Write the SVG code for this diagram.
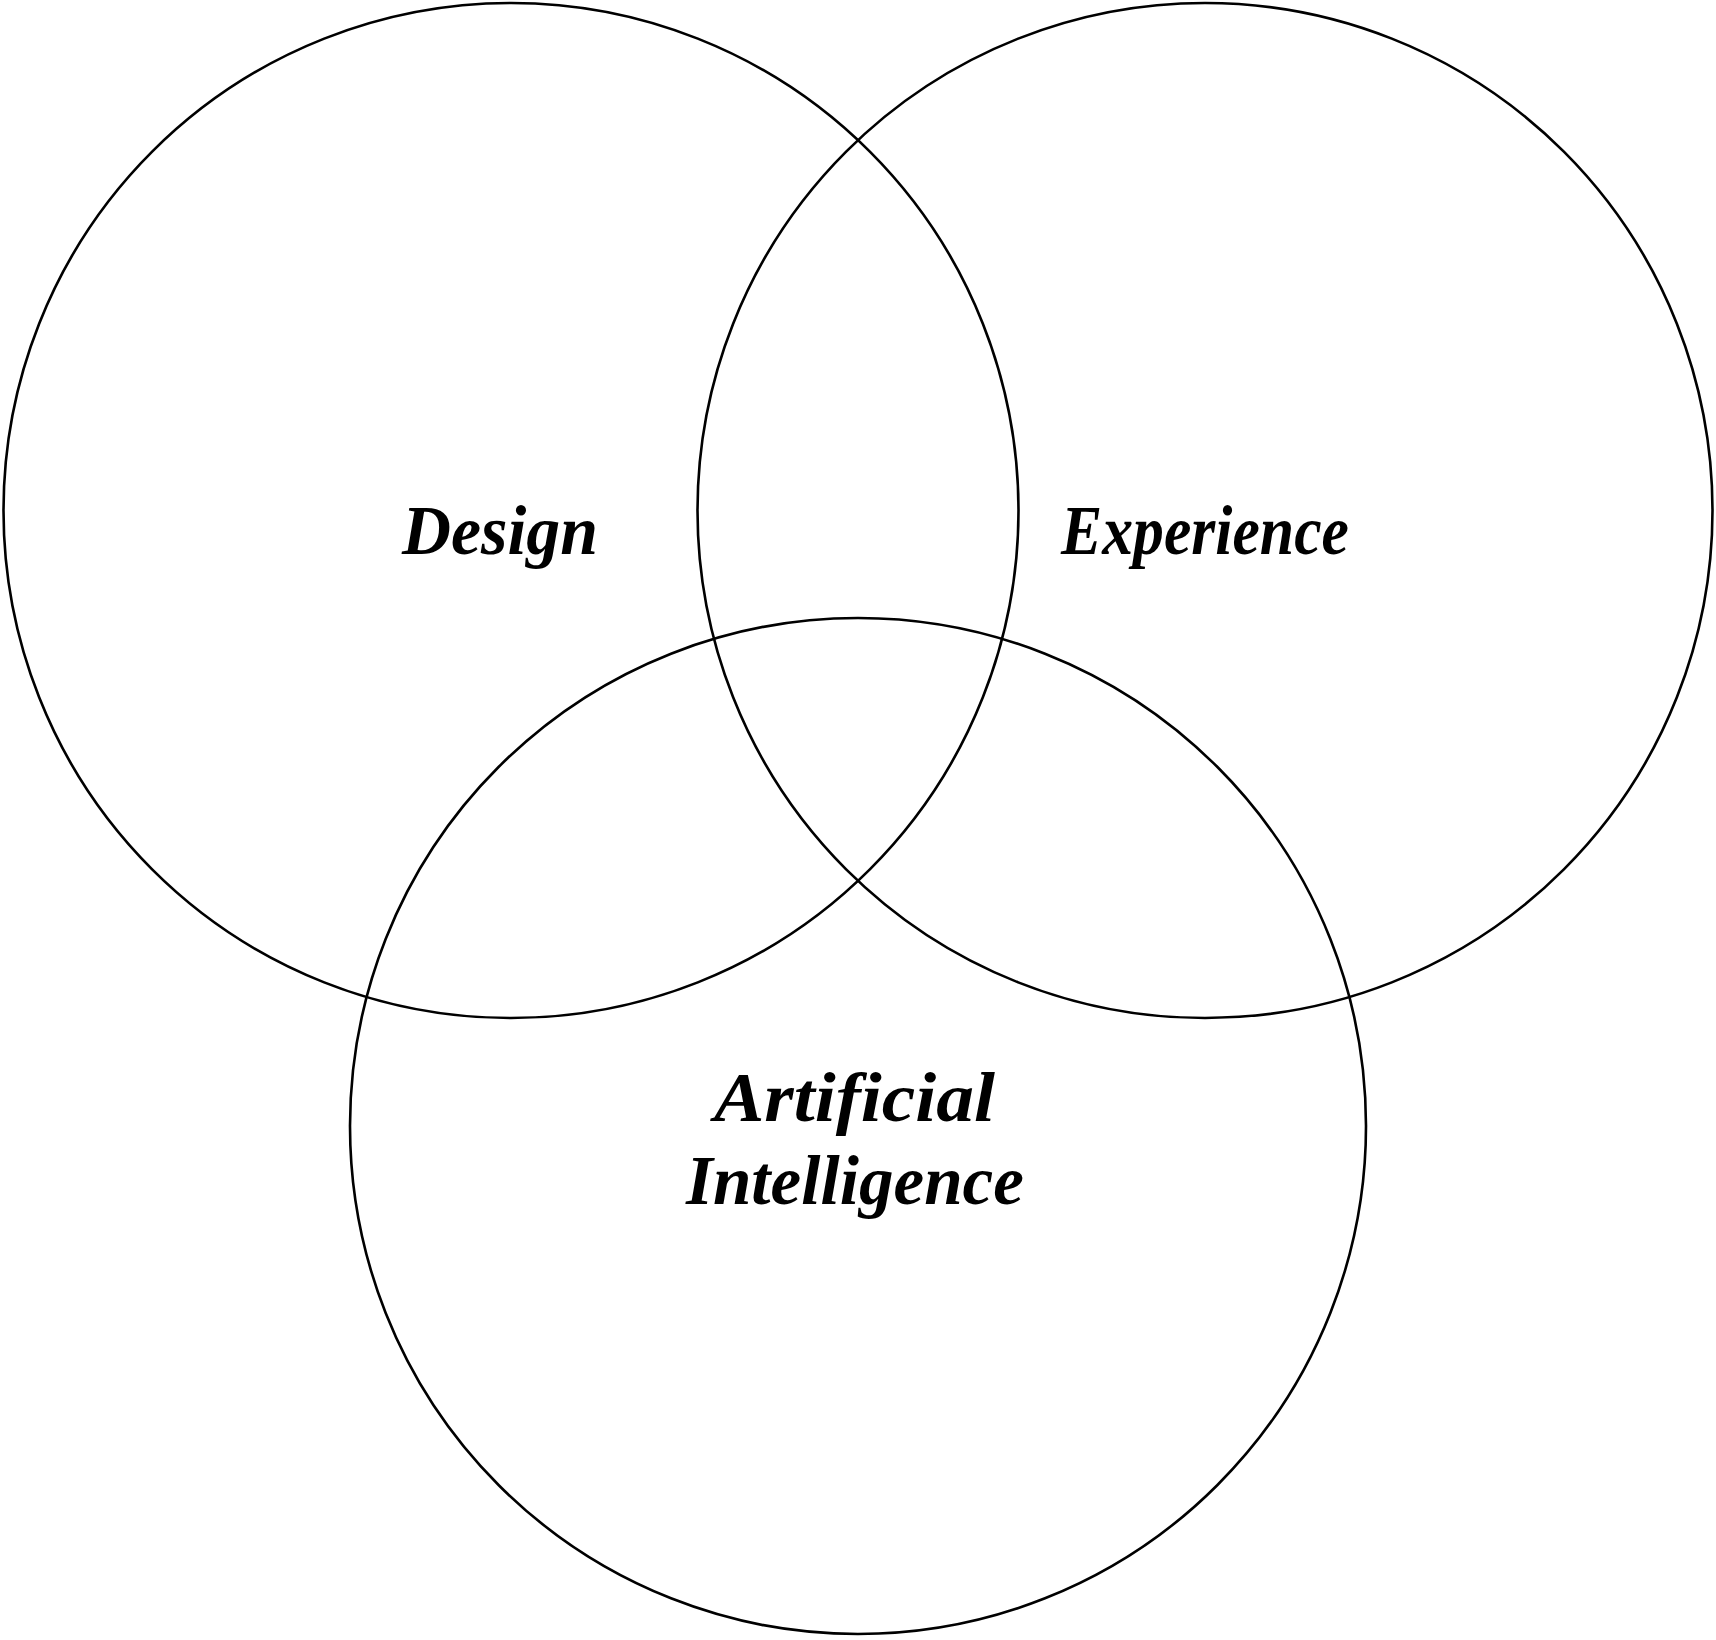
<svg xmlns="http://www.w3.org/2000/svg" width="1716" height="1640" viewBox="0 0 1716 1640">
<style>
.c{fill:none;stroke:#000;stroke-width:2.6}
.t{font-family:"Liberation Serif","Times New Roman",serif;font-style:italic;font-weight:bold;font-size:70px;fill:#000}
</style>
<rect width="1716" height="1640" fill="#fff"/>
<g id="design"><circle class="c" cx="511" cy="510.5" r="507.5"/><text class="t" x="402" y="554" textLength="196" lengthAdjust="spacingAndGlyphs">Design</text></g>
<g id="experience"><circle class="c" cx="1205" cy="510.5" r="507.5"/><text class="t" x="1061" y="554" textLength="288" lengthAdjust="spacingAndGlyphs">Experience</text></g>
<g id="ai"><circle class="c" cx="858" cy="1126" r="508"/><text class="t" x="714" y="1121" textLength="281" lengthAdjust="spacingAndGlyphs">Artificial</text><text class="t" x="686" y="1204" textLength="338" lengthAdjust="spacingAndGlyphs">Intelligence</text></g>
<g id="connectors"/>
</svg>
